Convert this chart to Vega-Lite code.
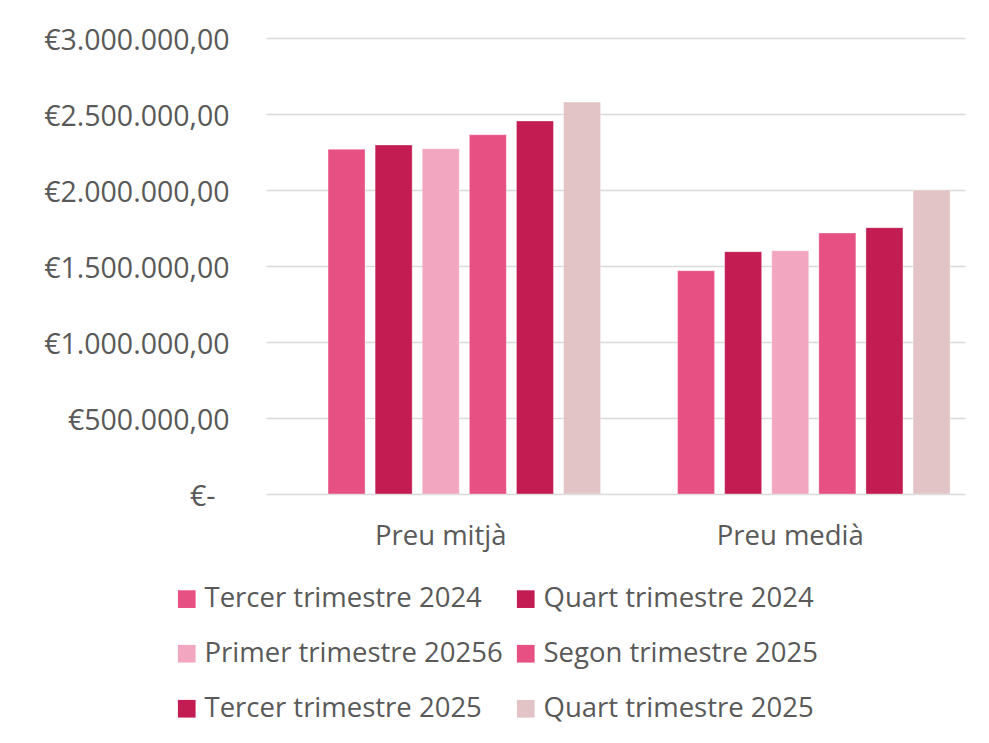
{
  "$schema": "https://vega.github.io/schema/vega-lite/v6.json",
  "width": 699,
  "height": 456,
  "autosize": {"type": "none"},
  "padding": {"left": 266, "top": 38, "right": 24, "bottom": 249},
  "background": "white",
  "config": {"view": {"stroke": null}, "font": "Open Sans"},
  "data": {
    "values": [
      {"grup": "Preu mitjà", "serie": "Tercer trimestre 2024", "valor": 2267800},
      {"grup": "Preu mitjà", "serie": "Quart trimestre 2024", "valor": 2296000},
      {"grup": "Preu mitjà", "serie": "Primer trimestre 20256", "valor": 2271700},
      {"grup": "Preu mitjà", "serie": "Segon trimestre 2025", "valor": 2363800},
      {"grup": "Preu mitjà", "serie": "Tercer trimestre 2025", "valor": 2453900},
      {"grup": "Preu mitjà", "serie": "Quart trimestre 2025", "valor": 2578900},
      {"grup": "Preu medià", "serie": "Tercer trimestre 2024", "valor": 1469000},
      {"grup": "Preu medià", "serie": "Quart trimestre 2024", "valor": 1594000},
      {"grup": "Preu medià", "serie": "Primer trimestre 20256", "valor": 1600600},
      {"grup": "Preu medià", "serie": "Segon trimestre 2025", "valor": 1717100},
      {"grup": "Preu medià", "serie": "Tercer trimestre 2025", "valor": 1752200},
      {"grup": "Preu medià", "serie": "Quart trimestre 2025", "valor": 2000000}
    ]
  },
  "mark": {"type": "bar", "stroke": "#ffffff", "strokeOpacity": 0.35, "strokeWidth": 1},
  "encoding": {
    "x": {
      "field": "grup",
      "type": "nominal",
      "sort": ["Preu mitjà", "Preu medià"],
      "scale": {"paddingInner": 0, "paddingOuter": 0},
      "axis": {
        "title": null,
        "labelAngle": 0,
        "labelFontSize": 27.5,
        "labelColor": "#595959",
        "labelPadding": 28,
        "domain": false,
        "ticks": false
      }
    },
    "xOffset": {
      "field": "serie",
      "type": "nominal",
      "scale": {
        "domain": ["", "Tercer trimestre 2024", "Quart trimestre 2024", "Primer trimestre 20256", "Segon trimestre 2025", "Tercer trimestre 2025", "Quart trimestre 2025"],
        "paddingInner": 0.214,
        "paddingOuter": 0.317
      }
    },
    "y": {
      "field": "valor",
      "type": "quantitative",
      "scale": {"domain": [0, 3000000]},
      "axis": {
        "title": null,
        "values": [0, 500000, 1000000, 1500000, 2000000, 2500000, 3000000],
        "domain": false,
        "ticks": false,
        "gridColor": "#D9D9D9",
        "gridWidth": 1.3,
        "labelFontSize": 28.5,
        "labelColor": "#595959",
        "labelLimit": 400,
        "labelPadding": {"condition": {"test": "datum.value == 0", "value": 51}, "value": 37},
        "labelOffset": 2,
        "labelExpr": "datum.value == 0 ? '€-' : '€' + replace(replace(replace(format(datum.value, ',.2f'), regexp(',', 'g'), '#'), regexp('[.]', 'g'), ','), regexp('#', 'g'), '.')"
      }
    },
    "color": {
      "field": "serie",
      "type": "nominal",
      "scale": {
        "domain": ["Tercer trimestre 2024", "Primer trimestre 20256", "Tercer trimestre 2025", "Quart trimestre 2024", "Segon trimestre 2025", "Quart trimestre 2025"],
        "range": ["#E75082", "#F3A6C0", "#C21C52", "#C21C52", "#E75082", "#E2C4C6"]
      },
      "legend": {
        "title": null,
        "orient": "none",
        "legendX": -93,
        "legendY": 547,
        "columns": 2,
        "symbolType": "square",
        "symbolSize": 313,
        "symbolStrokeWidth": 0,
        "labelFontSize": 27.5,
        "labelColor": "#595959",
        "labelOffset": 4,
        "rowPadding": 26,
        "columnPadding": 9,
        "padding": 0,
        "labelLimit": 400
      }
    }
  }
}
